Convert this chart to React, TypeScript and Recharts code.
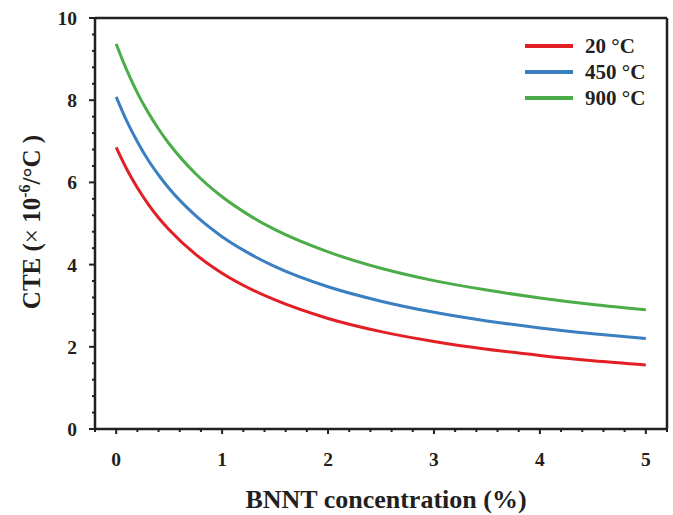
import React from 'react';
import {
  LineChart,
  Line,
  XAxis,
  YAxis,
  Legend,
  ReferenceLine
} from 'recharts';

const concentration = [0, 0.1, 0.2, 0.3, 0.4, 0.5, 0.75, 1, 1.25, 1.5, 2, 2.5, 3, 3.5, 4, 4.5, 5];
const cte20 = [6.85, 6.32, 5.87, 5.48, 5.14, 4.85, 4.25, 3.79, 3.43, 3.14, 2.69, 2.37, 2.13, 1.94, 1.79, 1.66, 1.56];
const cte450 = [8.08, 7.49, 6.99, 6.55, 6.18, 5.85, 5.19, 4.68, 4.28, 3.95, 3.46, 3.11, 2.84, 2.63, 2.46, 2.32, 2.2];
const cte900 = [9.37, 8.73, 8.18, 7.71, 7.3, 6.94, 6.21, 5.65, 5.21, 4.85, 4.31, 3.91, 3.61, 3.38, 3.19, 3.03, 2.9];

const xTicks = [-0.2, 0, 0.2, 0.4, 0.6, 0.8, 1, 1.2, 1.4, 1.6, 1.8, 2, 2.2, 2.4, 2.6, 2.8, 3, 3.2, 3.4, 3.6, 3.8, 4, 4.2, 4.4, 4.6, 4.8, 5, 5.2];
const yTicks = [0, 0.4, 0.8, 1.2, 1.6, 2, 2.4, 2.8, 3.2, 3.6, 4, 4.4, 4.8, 5.2, 5.6, 6, 6.4, 6.8, 7.2, 7.6, 8, 8.4, 8.8, 9.2, 9.6, 10];

const series = [
  { key: 'c20', name: '20 °C', color: '#e31f26', values: cte20 },
  { key: 'c450', name: '450 °C', color: '#3a7fc1', values: cte450 },
  { key: 'c900', name: '900 °C', color: '#4bad49', values: cte900 }
];

const data = concentration.map((x, i) => ({
  x,
  c20: cte20[i],
  c450: cte450[i],
  c900: cte900[i]
}));

const INK = '#231f20';
const FONT = '"Liberation Serif", "Times New Roman", serif';

const isInt = (v: number) => Math.abs(v - Math.round(v)) < 1e-6;

const XTick = (props: any) => {
  const { x, y, payload } = props;
  const v = payload.value;
  const major = isInt(v) && v >= 0;
  return (
    <g>
      <line x1={x} x2={x} y1={y} y2={y + (major ? 5 : 3)} stroke={INK} strokeWidth={2} />
      {major && (
        <text x={x} y={y + 37} textAnchor="middle" fontFamily={FONT} fontWeight="bold" fontSize={19.5} fill={INK}>
          {v}
        </text>
      )}
    </g>
  );
};

const YTick = (props: any) => {
  const { x, y, payload } = props;
  const v = payload.value;
  const major = isInt(v) && Math.round(v) % 2 === 0;
  return (
    <g>
      <line x1={x - (major ? 6 : 3)} x2={x} y1={y} y2={y} stroke={INK} strokeWidth={2} />
      {major && (
        <text x={x - 18} y={y + 7} textAnchor="end" fontFamily={FONT} fontWeight="bold" fontSize={19.5} fill={INK}>
          {v}
        </text>
      )}
    </g>
  );
};

const LegendBox = () => (
  <div style={{ fontFamily: FONT, fontWeight: 'bold', fontSize: 21, color: INK }}>
    {series.map((s) => (
      <div key={s.key} style={{ display: 'flex', alignItems: 'center', height: 26 }}>
        <div style={{ width: 48, height: 4, background: s.color, marginRight: 12 }} />
        <span>{s.name}</span>
      </div>
    ))}
  </div>
);

const XTitle = () => (
  <text x={386} y={508} textAnchor="middle" fontFamily={FONT} fontWeight="bold" fontSize={26} fill={INK}>
    BNNT concentration (%)
  </text>
);

const YTitle = () => (
  <text
    x={31}
    y={222}
    dy={9}
    transform="rotate(-90, 31, 222)"
    textAnchor="middle"
    fontFamily={FONT}
    fontWeight="bold"
    fontSize={25}
    fill={INK}
  >
    CTE (<tspan fontWeight="normal">×</tspan> 10
    <tspan dy={-10} fontSize={16}>-6</tspan>
    <tspan dy={10}>/°C )</tspan>
  </text>
);

export default function App() {
  return (
    <div style={{ position: 'absolute', left: 0, top: 0, width: 673, height: 515, background: '#fff' }}>
      <LineChart
        width={673}
        height={515}
        data={data}
        margin={{ top: 18, right: 6, bottom: 0, left: 0 }}
      >
        <XAxis
          dataKey="x"
          type="number"
          domain={[-0.2, 5.2]}
          ticks={xTicks}
          interval={0}
          height={86}
          tickSize={0}
          tickMargin={0}
          tickLine={false}
          tick={<XTick />}
          axisLine={{ stroke: INK, strokeWidth: 2.5 }}
          label={<XTitle />}
        />
        <YAxis
          type="number"
          domain={[0, 10]}
          ticks={yTicks}
          interval={0}
          width={95}
          tickSize={0}
          tickMargin={0}
          tickLine={false}
          tick={<YTick />}
          axisLine={{ stroke: INK, strokeWidth: 2.5 }}
          label={<YTitle />}
        />
        <ReferenceLine y={10} stroke={INK} strokeWidth={2.5} />
        <ReferenceLine x={5.2} stroke={INK} strokeWidth={2.5} />
        {series.map((s) => (
          <Line
            key={s.key}
            type="monotone"
            dataKey={s.key}
            name={s.name}
            stroke={s.color}
            strokeWidth={3}
            dot={false}
            isAnimationActive={false}
          />
        ))}
        <Legend
          layout="vertical"
          align="center"
          verticalAlign="middle"
          content={<LegendBox />}
          wrapperStyle={{ position: 'absolute', left: 525, top: 33, width: 145, height: 80 }}
        />
      </LineChart>
    </div>
  );
}
